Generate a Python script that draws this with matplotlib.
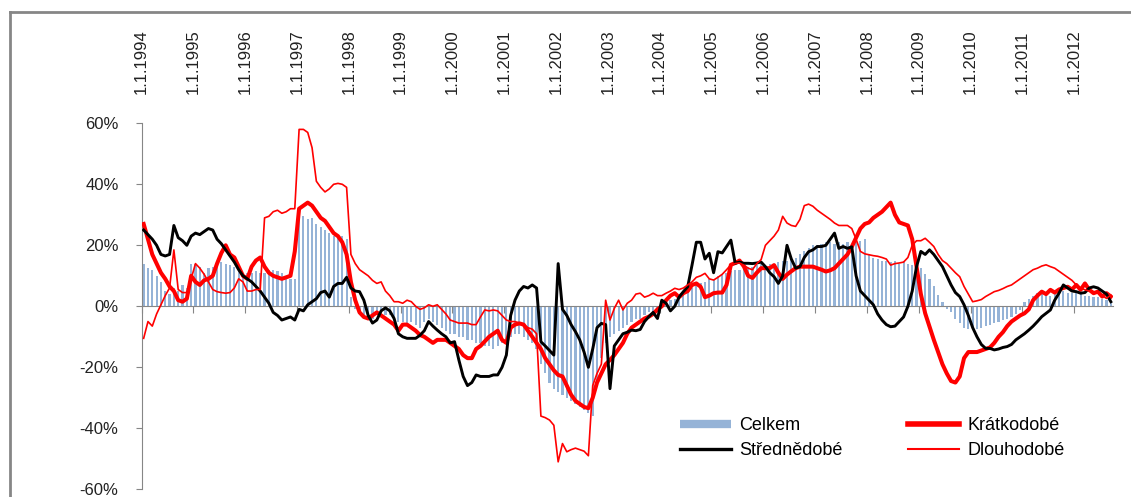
import matplotlib
matplotlib.use("Agg")
import matplotlib.pyplot as plt
from matplotlib.lines import Line2D
import numpy as np

plt.rcParams['font.family'] = ['Liberation Sans', 'DejaVu Sans']

years = [str(y) for y in range(1994, 2013)]
year_labels = ["1.1." + y for y in years]

# monthly values, Jan 1994 .. Sep 2012 (%)
celkem = [
    14, 12.5, 12, 10, 8, 5, 4, 6, 5, 7, 6, 14,
    14, 13, 11, 12.5, 13, 14.5, 14.5, 14, 13.5, 13, 11.5, 10.5,
    11, 11, 11.5, 11, 11, 12, 12, 11.5, 11, 10, 9, 9,
    30, 29.5, 28.5, 29, 27, 26, 25, 24, 23, 22.5, 23, 22,
    3, -1, -2, -3, -4, -4, -3, -2, -3, -3, -4, -5,
    -5, -6, -5, -6, -7, -5, -4, -5, -6, -7, -8, -9,
    -9, -10, -10, -11, -11, -12, -12, -13, -13, -14, -13, -12,
    -11, -10, -9, -9, -10, -11, -12, -14, -19, -22, -25, -27,
    -28, -29, -30, -31, -32, -33, -34, -35, -36, -25, -17, -12,
    -10, -9, -8, -7, -6, -5, -4, -4, -3, -2, -2, -1,
    0, 1, 2, 2.5, 3, 4, 5, 6, 7, 7.5, 8, 9,
    9, 10, 10.5, 11, 11.5, 12, 12, 12.5, 13, 13, 13.5, 14,
    13.5, 14, 14, 14.5, 15, 15, 16, 16, 17, 18, 19, 20,
    20, 20.5, 21, 21, 20.5, 21, 20.5, 21, 20.5, 21, 21.5, 22,
    17, 16, 15.5, 15, 15, 14.5, 15, 14, 15, 14, 13.5, 14,
    12.5, 10.5, 9, 6.5, 3.7, 1.5, -1, -2, -4, -5.6, -7, -7.5,
    -7.8, -7.5, -7, -6.5, -6, -5.5, -5, -4.5, -4, -3.5, -2.5, -1.2,
    1.5, 2.5, 3.5, 4.3, 4, 4.5, 3.5, 4, 4.5, 5, 4.5, 4.5,
    4.5, 4, 3.5, 3.5, 3.2, 3, 2.5, 2, 1.5,
]

kratkodobe = [
    27, 22, 17, 14, 11, 9, 6.5, 5, 2, 1.5, 2.5, 10,
    8, 7, 8.5, 9, 10, 14, 17.5, 20, 17, 16, 13, 10,
    9, 13, 15, 16, 13, 11, 10, 9.5, 9, 9.5, 10, 18,
    32, 33, 34, 33, 31, 29, 28, 26, 24, 23, 21, 17,
    8, 2, -2, -3.5, -4, -3, -2, -3, -4, -5, -6, -8,
    -6, -6, -7, -8, -9.4, -10, -11, -12, -11, -11, -11, -12,
    -13, -14, -16, -17, -17, -14, -13, -11.5, -10, -9, -8, -11,
    -12, -7, -6, -5.6, -6, -8, -10, -12, -14, -17, -19, -21,
    -22.5, -23, -26, -29, -31, -32, -33, -33.4, -30, -25, -22, -19,
    -17.6, -16, -14, -12, -9, -7, -6, -5, -4, -3.4, -2.5, -1,
    0, 2, 3.5, 4.3, 3, 4.3, 5, 7, 7.5, 6.4, 3, 3.5,
    4.3, 4.5, 4.5, 7, 13.6, 14.2, 15, 13.1, 10, 9.3, 11, 12.5,
    12.5, 12.5, 13.5, 11, 9, 10.4, 11.5, 12.5, 13, 13, 13, 13,
    12.5, 12, 11.4, 11.8, 12.5, 14, 15.5, 17, 19.5, 22.5, 25.5, 27,
    27.5, 29, 30, 31, 32.5, 34, 30, 27.5, 27, 26.5, 22, 13,
    4, -2.3, -6.7, -11, -15, -19, -22, -24.5, -25, -23, -17, -15,
    -15, -15, -14.5, -14, -13.5, -12, -10, -8.5, -6.5, -5, -4, -3,
    -2.3, -1, 2, 3.5, 4.8, 4, 5.4, 4.5, 5.5, 6, 6.4, 5.5,
    7, 5.4, 7.5, 5.4, 4.3, 4.8, 3.2, 4.3, 3.2,
]

strednedobe = [
    25, 23.5, 22, 20, 17, 16.5, 17, 26.5, 22.5, 21.5, 20, 23,
    24, 23.5, 24.5, 25.5, 25, 22, 20.5, 18.5, 16.5, 14.5, 12, 10,
    9, 8, 6.5, 5, 3, 1, -2, -3, -4.5, -4, -3.5, -4.5,
    -1, -1.5, 0.5, 1.5, 2.5, 4.5, 5, 3, 6.5, 7.5, 7.5, 9.5,
    6, 5, 4.8, 2, -3, -5.5, -4.5, -1.5, -0.5, -1.5, -4, -9,
    -10, -10.5, -10.5, -10.5, -9.5, -8, -5, -6.5, -7.8, -9, -10, -12,
    -11.6, -17.6, -23, -26, -25, -22.5, -23, -23, -23, -22.5, -22.5, -20,
    -16, -3, 2, 5, 6.5, 6, 7, 6, -11.6, -13, -14.5, -16,
    14, -1, -3, -6, -8.3, -11, -15, -20, -14, -7, -5.6, -6,
    -27, -13, -11, -9, -8.5, -7.8, -8, -7.6, -5, -3.4, -2, -4,
    2, 1, -1.5, 0, 3, 4.8, 6.4, 13.5, 21, 21, 15.5, 17.4,
    11, 17.9, 17.5, 19.6, 21.7, 14.1, 14.5, 14.1, 14.1, 14, 14.2, 14.5,
    13, 11, 9.7, 7.5, 10, 20, 15.5, 12.5, 13, 16, 17.9, 18.5,
    19.6, 19.6, 20, 22, 24, 19, 19.6, 19, 19.5, 10, 5, 3.5,
    2, 0.5, -2.5, -4.5, -6, -6.7, -6.5, -5, -3.5, 0, 5, 13,
    18, 17, 18.5, 17, 15, 13, 10, 7, 4.5, 3.2, 0.5, -3,
    -7, -10, -12.5, -13.8, -13.8, -14.3, -14, -13.5, -13.2, -12.5, -11, -10,
    -9, -7.8, -6.5, -5, -3.4, -2.3, -1.2, 2, 4.3, 7, 6, 5,
    4.8, 4.3, 4.5, 6, 6.4, 6, 5, 4, 1.5,
]

dlouhodobe = [
    -10.5, -5, -6.5, -2.5, 0.5, 3.5, 6, 18.5, 5.5, 4.5, 4.5, 9,
    14, 12.5, 10.5, 8, 5.5, 4.8, 4.5, 4.3, 4.5, 6, 9, 8,
    5, 5, 5.5, 5.5, 29, 29.5, 31, 31.5, 30.5, 31, 32, 32,
    58, 58, 57, 52, 41, 39, 37.5, 38.5, 40, 40.3, 40, 39,
    17, 14, 12, 11, 10, 8.5, 7.5, 8, 5, 3.5, 1.5, 1.5,
    1, 2, 1.5, 0, -1, -0.5, 0.5, 0, 0.5, -1, -2.5, -4.5,
    -5, -5.5, -5.5, -5.5, -6, -6, -3.5, -1.2, -1.5, -1.2, -1.5, -3,
    -4.5, -5, -5, -5.5, -6, -7, -7.5, -9, -36, -36.5, -37.3, -39,
    -51, -45, -47.7, -47, -46.5, -47, -47.5, -49, -26, -22, -19, 2,
    -4.5, -0.7, 2, -1.2, 1, 2, 4, 4.3, 3, 3.5, 4.3, 3.5,
    3.5, 4.3, 5, 5.9, 5.5, 6, 7, 8, 9.5, 10, 10.8, 9,
    8.6, 9.5, 10.5, 12, 13.6, 14, 14.2, 13.5, 12.5, 12, 14, 15.3,
    20, 21.5, 23, 25, 29.5, 27.3, 26.5, 26.2, 28.5, 33, 33.5, 32.8,
    31.5, 30.5, 29.5, 28.5, 27.3, 26.5, 26.5, 26.5, 25.5, 22, 18, 17.2,
    16.9, 16.6, 16.4, 16, 15.5, 13.5, 14, 14.2, 14.5, 16, 20, 21.5,
    21.5, 22.3, 21, 19.6, 17, 15, 14, 12.5, 11, 9.7, 6.5, 4,
    1.5, 1.8, 2.2, 3.2, 4, 4.8, 5.2, 5.8, 6.5, 7, 8, 9,
    10, 11, 12, 12.5, 13.2, 13.6, 13, 12.5, 11.5, 10.5, 9.5, 8.5,
    7, 6, 5.4, 5, 4.8, 4.3, 3.5, 2.6, 3.7,
]

blue = "#95B3D7"
red = "#FF0000"
grey = "#868686"

n = len(celkem)
x = np.arange(n) + 0.5

fig = plt.figure(figsize=(11.31, 4.97), dpi=100)
ax = fig.add_axes([141.5 / 1131, 1 - 489.3 / 497, (1113 - 141.5) / 1131, (489.3 - 123.3) / 497])

ax.bar(x, celkem, width=0.5, color=blue, zorder=1)
ax.plot(x, kratkodobe, color=red, lw=2.9, zorder=3, solid_joinstyle='round')
ax.plot(x, strednedobe, color="black", lw=2.1, zorder=4, solid_joinstyle='round')
ax.plot(x, dlouhodobe, color=red, lw=1.2, zorder=5)

ax.set_xlim(0, n)
ax.set_ylim(-60, 60)
ax.set_yticks(range(-60, 61, 20))
ax.set_yticklabels([f"{v}%" for v in range(-60, 61, 20)])

ax.set_xticks(np.arange(len(years)) * 12)
ax.set_xticklabels(year_labels)

for s in ["top", "right"]:
    ax.spines[s].set_visible(False)
ax.spines["bottom"].set_position(("data", 0))
ax.spines["bottom"].set_color(grey)
ax.spines["left"].set_color(grey)
ax.spines["bottom"].set_zorder(2)

ax.tick_params(axis="x", bottom=True, top=False, labelbottom=False, labeltop=True,
               labelrotation=90, direction="out", length=5, color=grey,
               labelsize=12, pad=16, labelcolor="#222222")
ax.tick_params(axis="y", direction="out", length=4.5, color=grey, labelsize=12,
               pad=12, labelcolor="#222222")

handles = [
    Line2D([], [], color=blue, lw=6, solid_capstyle="butt"),
    Line2D([], [], color="black", lw=2.4),
    Line2D([], [], color=red, lw=4),
    Line2D([], [], color=red, lw=1.5),
]
labels = ["Celkem", "Střednědobé", "Krátkodobé", "Dlouhodobé"]
fig.legend(handles, labels, ncol=2, frameon=False, fontsize=13,
           loc="upper left", bbox_to_anchor=(671 / 1131, 1 - 408 / 497),
           handlelength=2.8, handletextpad=0.5, columnspacing=3.6,
           labelspacing=0.45, borderpad=0)

# outer frame of the chart area
fig.add_artist(Line2D([10 / 1131, 10 / 1131], [0, 1 - 12 / 497], color=grey, lw=2))
fig.add_artist(Line2D([10 / 1131, 1], [1 - 12 / 497, 1 - 12 / 497], color=grey, lw=2))

fig.savefig("out.png", dpi=100)
